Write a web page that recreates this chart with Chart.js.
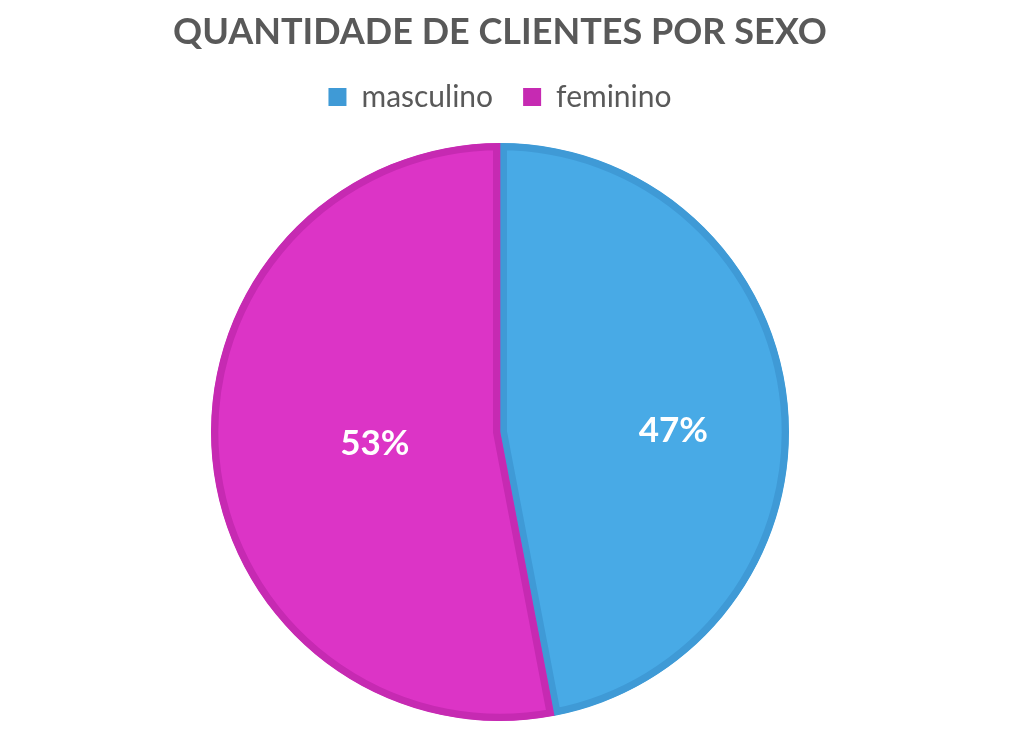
<!DOCTYPE html>
<html>
<head>
<meta charset="utf-8">
<script src="https://cdn.jsdelivr.net/npm/chart.js@4/dist/chart.umd.min.js"></script>
<style>
  html, body { margin: 0; padding: 0; background: #ffffff; overflow: hidden; }
  #wrap { width: 1032px; height: 730px; overflow: hidden; }
</style>
</head>
<body>
<div id="wrap"><canvas id="chart" width="1032" height="742"></canvas></div>
<script>
// dados do gráfico
const categorias = ['masculino', 'feminino'];
const valores = [47, 53];
const coresFill = ['#48aae6', '#dc34c6'];
const coresBorda = ['#3f9ad6', '#c62ab2'];
const rotulos = ['47%', '53%'];

// rótulos dentro das fatias (sem plugin externo)
const rotuloRaio = [0.6, 0.435];
const rotuloGiro = [5, 0]; // graus
const pieLabels = {
    id: 'pieLabels',
    afterDatasetsDraw(chart) {
        const ctx = chart.ctx;
        const meta = chart.getDatasetMeta(0);
        ctx.save();
        ctx.fillStyle = '#ffffff';
        ctx.font = 'bold 35px Lato';
        ctx.textAlign = 'center';
        ctx.textBaseline = 'middle';
        meta.data.forEach((arc, i) => {
            const p = arc.getProps(['x', 'y', 'startAngle', 'endAngle', 'outerRadius'], true);
            const mid = (p.startAngle + p.endAngle) / 2 + rotuloGiro[i] * Math.PI / 180;
            const r = p.outerRadius * rotuloRaio[i];
            ctx.fillText(rotulos[i], p.x + Math.cos(mid) * r, p.y + Math.sin(mid) * r);
        });
        ctx.restore();
    }
};

new Chart(document.getElementById('chart'), {
    type: 'pie',
    data: {
        labels: categorias,
        datasets: [{
            data: valores,
            backgroundColor: coresFill,
            borderColor: coresBorda,
            borderWidth: 7,
            borderAlign: 'inner',
            radius: 289
        }]
    },
    options: {
        responsive: false,
        animation: false,
        layout: { padding: { top: 0, right: 32, bottom: 0, left: 0 } },
        plugins: {
            title: {
                display: true,
                text: 'QUANTIDADE DE CLIENTES POR SEXO',
                color: '#595959',
                font: { family: 'Lato', size: 36, weight: 'bold', lineHeight: 1 },
                padding: { top: 14, bottom: 2 }
            },
            legend: {
                display: true,
                position: 'top',
                labels: {
                    color: '#595959',
                    font: { family: 'Lato', size: 30 },
                    boxWidth: 18,
                    boxHeight: 18,
                    padding: 30,
                    generateLabels(chart) {
                        const itens = Chart.overrides.pie.plugins.legend.labels.generateLabels(chart);
                        itens.forEach((it, i) => {
                            it.fillStyle = coresBorda[i];
                            it.lineWidth = 0;
                        });
                        return itens;
                    }
                }
            },
            tooltip: { enabled: false }
        }
    },
    plugins: [pieLabels]
});
</script>
</body>
</html>
